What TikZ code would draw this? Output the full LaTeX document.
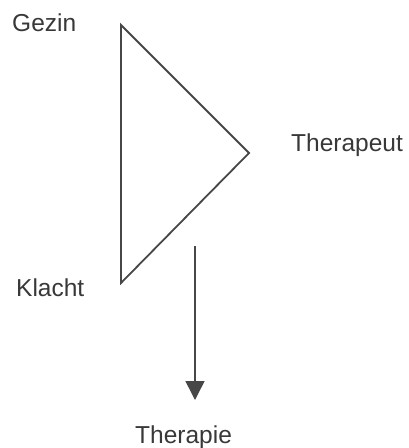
\documentclass[tikz,border=0pt]{standalone}
\usepackage{fontspec}
\setmainfont{Liberation Sans}
\usetikzlibrary{arrows.meta}
\begin{document}
\begin{tikzpicture}[x=1pt,y=-1pt,
  lbl/.style={anchor=base west,inner sep=0pt,text=black!78,font=\fontsize{24.5}{28}\selectfont},
  edge/.style={draw=black!72,line width=1.8pt,line join=miter},
  flow/.style={draw=black!72,line width=1.5pt,-{Triangle[length=19pt,width=19pt]}}]
\useasboundingbox (0,0) rectangle (408,448);
\coordinate (G) at (121,25);
\coordinate (K) at (121,283);
\coordinate (T) at (249,153);
\draw[edge] (G) -- (T) -- (K) -- cycle;
\node[lbl] (gezin) at (12,31) {Gezin};
\node[lbl] (klacht) at (16,296) {Klacht};
\node[lbl] (therapeut) at (291,151) {Therapeut};
\node[lbl] (therapie) at (135,443) {Therapie};
\coordinate (a1) at (195,246);
\coordinate (a2) at (195,400);
\draw[flow] (a1) -- (a2);
\end{tikzpicture}
\end{document}
